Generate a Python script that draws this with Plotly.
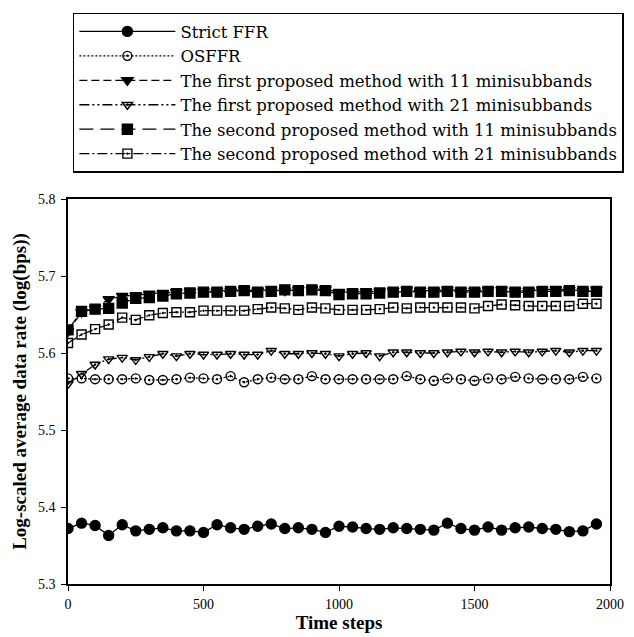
import plotly.graph_objects as go

time_steps = list(range(0, 2000, 50))

strict_ffr = [5.372, 5.379, 5.376, 5.363, 5.377, 5.369, 5.371, 5.373, 5.369, 5.369,
              5.367, 5.377, 5.373, 5.371, 5.375, 5.378, 5.372, 5.373, 5.371, 5.367,
              5.375, 5.374, 5.372, 5.371, 5.373, 5.372, 5.371, 5.370, 5.379, 5.372,
              5.370, 5.374, 5.370, 5.373, 5.374, 5.372, 5.371, 5.368, 5.369, 5.378]

osffr = [5.567, 5.567, 5.566, 5.566, 5.566, 5.567, 5.565, 5.565, 5.566, 5.568,
         5.567, 5.566, 5.570, 5.562, 5.566, 5.568, 5.566, 5.566, 5.570, 5.566,
         5.566, 5.566, 5.566, 5.566, 5.566, 5.570, 5.566, 5.564, 5.567, 5.566,
         5.564, 5.567, 5.566, 5.569, 5.567, 5.566, 5.566, 5.566, 5.569, 5.567]

first_11 = [5.628, 5.653, 5.658, 5.670, 5.674, 5.675, 5.677, 5.678, 5.679, 5.680,
            5.680, 5.681, 5.681, 5.682, 5.681, 5.682, 5.681, 5.682, 5.683, 5.683,
            5.679, 5.679, 5.680, 5.680, 5.681, 5.682, 5.681, 5.681, 5.682, 5.681,
            5.681, 5.682, 5.682, 5.681, 5.681, 5.682, 5.683, 5.682, 5.681, 5.682]

first_21 = [5.560, 5.573, 5.585, 5.592, 5.594, 5.591, 5.595, 5.599, 5.596, 5.599,
            5.598, 5.598, 5.599, 5.598, 5.598, 5.603, 5.599, 5.599, 5.600, 5.599,
            5.596, 5.599, 5.600, 5.596, 5.601, 5.601, 5.600, 5.600, 5.601, 5.602,
            5.601, 5.602, 5.601, 5.602, 5.601, 5.602, 5.603, 5.601, 5.603, 5.603]

second_11 = [5.630, 5.654, 5.657, 5.658, 5.665, 5.671, 5.672, 5.674, 5.677, 5.678,
             5.679, 5.679, 5.680, 5.681, 5.679, 5.680, 5.682, 5.681, 5.682, 5.681,
             5.676, 5.677, 5.677, 5.678, 5.679, 5.680, 5.679, 5.679, 5.680, 5.679,
             5.679, 5.680, 5.680, 5.679, 5.679, 5.680, 5.680, 5.681, 5.680, 5.680]

second_21 = [5.613, 5.624, 5.631, 5.637, 5.646, 5.643, 5.649, 5.652, 5.653, 5.653,
             5.655, 5.655, 5.655, 5.655, 5.657, 5.659, 5.658, 5.656, 5.659, 5.658,
             5.656, 5.656, 5.656, 5.657, 5.659, 5.658, 5.659, 5.659, 5.659, 5.659,
             5.658, 5.661, 5.663, 5.662, 5.661, 5.661, 5.661, 5.661, 5.664, 5.664]

series = [
    ("Strict FFR", strict_ffr, "solid", "circle", 10),
    ("OSFFR", osffr, "2px,2px", "circle-open-dot", 9),
    ("The first proposed method with 11 minisubbands", first_11, "8px,4px", "triangle-down", 10),
    ("The first proposed method with 21 minisubbands", first_21, "10px,3px,2px,3px,2px,3px", "triangle-down-open-dot", 9),
    ("The second proposed method with 11 minisubbands", second_11, "14px,7px", "square", 10),
    ("The second proposed method with 21 minisubbands", second_21, "10px,3px,2px,3px", "square-open-dot", 9),
]

FONT = "Liberation Serif, Times New Roman, serif"
LEGEND_FONT = "DejaVu Serif, Liberation Serif, serif"

fig = go.Figure()
for name, vals, dash, sym, size in series:
    fig.add_trace(go.Scatter(
        x=time_steps, y=vals, name=name, mode="lines+markers",
        line=dict(color="black", width=1.3, dash=dash),
        marker=dict(symbol=sym, size=size, color="black",
                    line=dict(color="black", width=1.4)),
    ))

fig.update_layout(
    width=634, height=637,
    margin=dict(l=68, r=24, t=199, b=53, autoexpand=False),
    paper_bgcolor="white", plot_bgcolor="white",
    font=dict(family=FONT, color="black", size=14),
    showlegend=True,
    legend=dict(
        x=0.009, y=1.484, xanchor="left", yanchor="top",
        bordercolor="black", borderwidth=1.5, bgcolor="white",
        font=dict(family=LEGEND_FONT, size=16.5, color="black"),
        itemwidth=96, tracegroupgap=0,
    ),
    xaxis=dict(
        range=[0, 2000], tickvals=[0, 500, 1000, 1500, 2000],
        ticks="outside", ticklen=5, tickwidth=1.3, tickcolor="black",
        showline=True, linecolor="black", linewidth=1.5, mirror=True,
        showgrid=False, zeroline=False, ticklabelstandoff=1,
        tickfont=dict(family=FONT, size=14),
        title=dict(text="<b>Time steps</b>", font=dict(family=FONT, size=19), standoff=3),
    ),
    yaxis=dict(
        range=[5.3, 5.8], dtick=0.1, tickformat=".1f",
        ticks="outside", ticklen=5, tickwidth=1.3, tickcolor="black",
        showline=True, linecolor="black", linewidth=1.5, mirror=True,
        showgrid=False, zeroline=False, ticklabelstandoff=3,
        tickfont=dict(family=FONT, size=14),
        title=dict(text="<b>Log-scaled average data rate (log(bps))</b>",
                   font=dict(family=FONT, size=19), standoff=6),
    ),
)

fig.write_html("out.html")
